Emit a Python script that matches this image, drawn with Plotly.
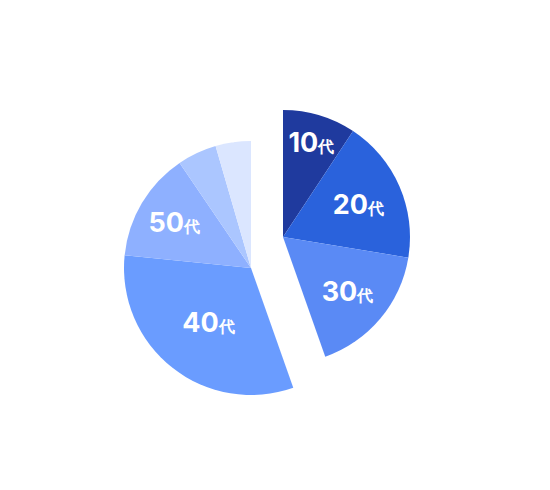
import plotly.graph_objects as go

# 年代別の構成比 (%)
ages = ['10代', '20代', '30代', '40代', '50代', '60歳', '70歳']
shares = [9.3, 18.3, 17.0, 32.0, 13.9, 5.0, 4.5]
colors = ['#1f3a9e', '#2a62dc', '#5a8af5', '#6a9cff', '#8eb0ff', '#abc6ff', '#dbe6ff']
right_group = [True, True, True, False, False, False, False]

W, H = 550, 490
R = 127
PAGE = 8  # body margin of the html page
# 右グループと左グループの中心 (画面px)
centers = {True: (283, 237), False: (251, 268)}


def label(a):
    num, unit = a[:-1], a[-1]
    return num + "<span style='font-size:16px'>" + unit + "</span>"


def domain(cx, cy):
    cx, cy = cx - PAGE, cy - PAGE
    x0 = (cx - R) / W
    y0 = (H - cy - R) / H
    return dict(x=[x0, x0 + 2 * R / W], y=[y0, y0 + 2 * R / H])


fig = go.Figure()
for grp in (True, False):
    cols = [c if g == grp else 'rgba(0,0,0,0)' for c, g in zip(colors, right_group)]
    txt = [label(a) if g == grp else '' for a, g in zip(ages, right_group)]
    pos = ['inside' if s > 8 else 'outside' for s in shares]
    fig.add_trace(go.Pie(
        labels=ages,
        values=shares,
        text=txt,
        textinfo='text',
        textposition=pos,
        insidetextorientation='horizontal',
        insidetextfont=dict(color='white', size=27, family='Inter', weight='bold'),
        outsidetextfont=dict(color='white', size=27, family='Inter', weight='bold'),
        marker=dict(colors=cols, line=dict(width=0)),
        sort=False,
        direction='clockwise',
        rotation=0,
        hoverinfo='skip',
        showlegend=False,
        domain=domain(*centers[grp]),
    ))

fig.update_layout(
    width=W,
    height=H,
    margin=dict(l=0, r=0, t=0, b=0),
    paper_bgcolor='white',
    plot_bgcolor='white',
)

fig.write_html("out.html")
